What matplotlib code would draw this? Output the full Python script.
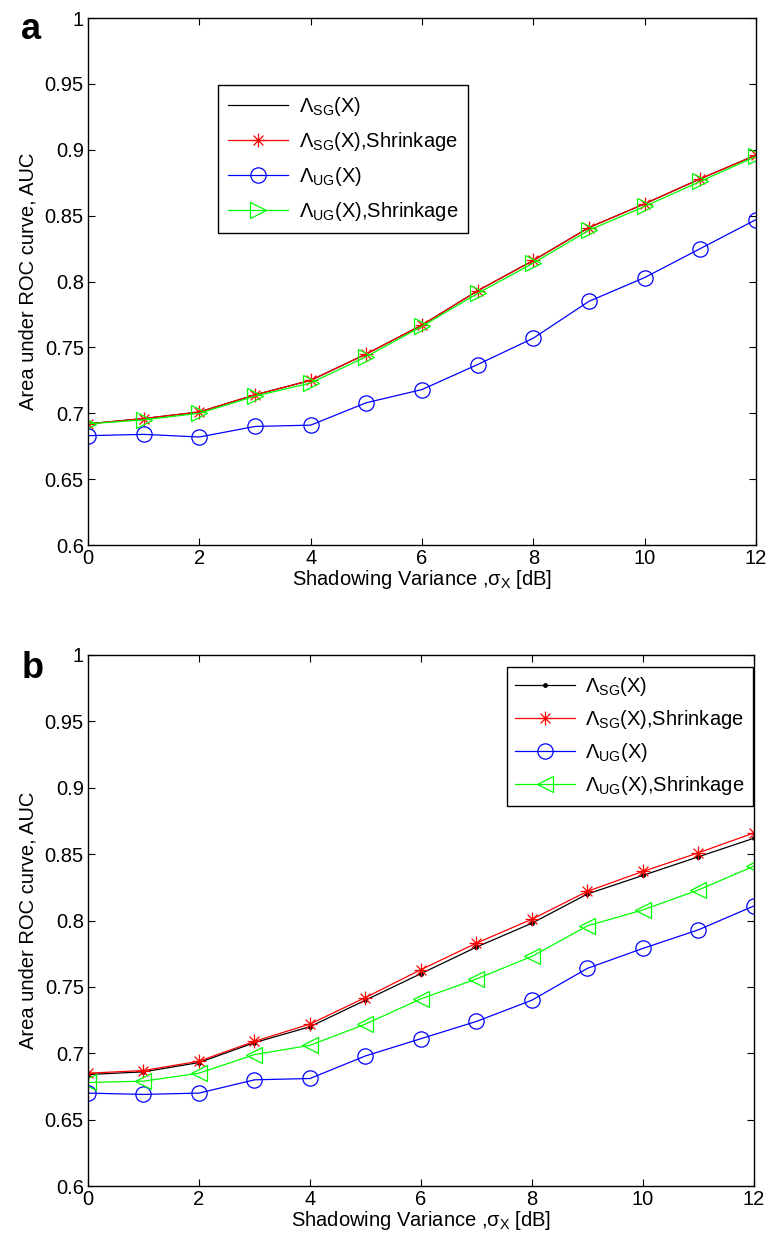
import matplotlib
matplotlib.use("Agg")
import matplotlib.pyplot as plt
from matplotlib.path import Path
import numpy as np

plt.rcParams['font.family'] = ['Liberation Sans', 'DejaVu Sans']
plt.rcParams['mathtext.fontset'] = 'custom'
plt.rcParams['mathtext.rm'] = 'Liberation Sans'
plt.rcParams['mathtext.it'] = 'Liberation Sans'
plt.rcParams['mathtext.bf'] = 'Liberation Sans:bold'

x = list(range(13))

# Panel a
a_sg = [0.692, 0.696, 0.701, 0.714, 0.725, 0.745, 0.767, 0.793, 0.816, 0.841, 0.859, 0.878, 0.896]
a_sg_shr = [0.692, 0.696, 0.701, 0.714, 0.725, 0.745, 0.767, 0.793, 0.816, 0.841, 0.859, 0.878, 0.896]
a_ug = [0.683, 0.684, 0.682, 0.690, 0.691, 0.708, 0.718, 0.737, 0.757, 0.785, 0.803, 0.825, 0.847]
a_ug_shr = [0.692, 0.695, 0.700, 0.713, 0.723, 0.743, 0.766, 0.791, 0.814, 0.839, 0.857, 0.876, 0.895]

# Panel b
b_sg = [0.684, 0.686, 0.693, 0.708, 0.720, 0.740, 0.760, 0.780, 0.798, 0.820, 0.834, 0.848, 0.862]
b_sg_shr = [0.685, 0.687, 0.694, 0.709, 0.722, 0.742, 0.763, 0.783, 0.801, 0.822, 0.837, 0.851, 0.866]
b_ug = [0.670, 0.669, 0.670, 0.680, 0.681, 0.698, 0.711, 0.724, 0.740, 0.764, 0.779, 0.793, 0.811]
b_ug_shr = [0.678, 0.679, 0.685, 0.699, 0.706, 0.722, 0.741, 0.756, 0.773, 0.796, 0.808, 0.823, 0.841]

labels = [r'$\Lambda_{\rm SG}$(X)', r'$\Lambda_{\rm SG}$(X),Shrinkage',
          r'$\Lambda_{\rm UG}$(X)', r'$\Lambda_{\rm UG}$(X),Shrinkage']
yticks = [0.6, 0.65, 0.7, 0.75, 0.8, 0.85, 0.9, 0.95, 1.0]
yticklabels = ['0.6', '0.65', '0.7', '0.75', '0.8', '0.85', '0.9', '0.95', '1']
xticks = [0, 2, 4, 6, 8, 10, 12]

# MATLAB-style asterisk marker (plus + cross)
_verts, _codes = [], []
for ang in np.arange(0, 180, 45):
    r = np.deg2rad(ang)
    dx, dy = np.cos(r), np.sin(r)
    _verts += [(-dx, -dy), (dx, dy)]
    _codes += [Path.MOVETO, Path.LINETO]
ASTERISK = Path(_verts, _codes)

fig = plt.figure(figsize=(7.67, 12.37), dpi=100)
ax_a = fig.add_axes([0.1147, 0.5594, 0.8709, 0.4260])
ax_b = fig.add_axes([0.1147, 0.0412, 0.8683, 0.4293])

GREEN = (0, 1, 0)

def style(ax):
    ax.set_xlim(0, 12)
    ax.set_ylim(0.6, 1.0)
    ax.set_xticks(xticks)
    ax.set_yticks(yticks)
    ax.set_yticklabels(yticklabels)
    ax.tick_params(direction='in', top=True, right=True, labelsize=14.5, length=5, width=0.8, pad=3)
    for s in ax.spines.values():
        s.set_linewidth(1.0)
    ax.set_xlabel(r'Shadowing Variance ,$\sigma_{\rm X}$ [dB]', fontsize=14.5, labelpad=0)
    ax.set_ylabel('Area under ROC curve, AUC', fontsize=14.5, labelpad=5)

# Panel a
ax_a.plot(x, a_sg, color='black', lw=0.9, label=labels[0])
ax_a.plot(x, a_sg_shr, color='red', lw=0.9, marker=ASTERISK, ms=10, mew=0.9, label=labels[1])
ax_a.plot(x, a_ug, color='blue', lw=0.9, marker='o', ms=11, mfc='none', mew=0.9, label=labels[2])
ax_a.plot(x, a_ug_shr, color=GREEN, lw=0.9, marker='>', ms=11, mfc='none', mew=0.9, label=labels[3])
style(ax_a)
leg_a = ax_a.legend(loc='upper left', bbox_to_anchor=(0.1946, 0.873), fontsize=14.5,
                    frameon=True, fancybox=False, edgecolor='black', framealpha=1,
                    borderaxespad=0, handlelength=3.0, handletextpad=0.5,
                    borderpad=0.5, labelspacing=0.6)
leg_a.get_frame().set_linewidth(1.0)

# Panel b
ax_b.plot(x, b_sg, color='black', lw=0.9, marker='.', ms=5, label=labels[0])
ax_b.plot(x, b_sg_shr, color='red', lw=0.9, marker=ASTERISK, ms=10, mew=0.9, label=labels[1])
ax_b.plot(x, b_ug, color='blue', lw=0.9, marker='o', ms=11, mfc='none', mew=0.9, label=labels[2])
ax_b.plot(x, b_ug_shr, color=GREEN, lw=0.9, marker='<', ms=11, mfc='none', mew=0.9, label=labels[3])
style(ax_b)
leg_b = ax_b.legend(loc='upper right', bbox_to_anchor=(0.9985, 0.977), fontsize=14.5,
                    frameon=True, fancybox=False, edgecolor='black', framealpha=1,
                    borderaxespad=0, handlelength=3.0, handletextpad=0.5,
                    borderpad=0.4, labelspacing=0.5)
leg_b.get_frame().set_linewidth(1.0)

fig.text(0.028, 0.990, 'a', fontsize=26, fontweight='bold', va='top')
fig.text(0.028, 0.474, 'b', fontsize=26, fontweight='bold', va='top')

fig.savefig('out.png', dpi=100)
